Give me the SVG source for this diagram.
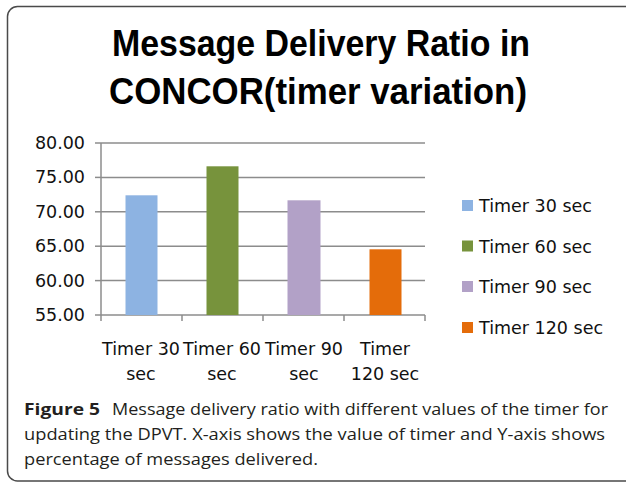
<svg xmlns="http://www.w3.org/2000/svg" width="626" height="485" viewBox="0 0 626 485">
  <style>
    .frame { fill: #ffffff; stroke: #4a4a4a; stroke-width: 1.5; }
    .title { font-family: "Liberation Sans", Arial, sans-serif; font-weight: bold; font-size: 37px; fill: #000; }
    .lbl { font-family: "DejaVu Sans", Verdana, sans-serif; font-size: 17.5px; fill: #111; }
    .grid { stroke: #8c8c8c; stroke-width: 1.5; fill: none; }
    .cap { font-family: "Open Sans", "Noto Sans", sans-serif; font-size: 16.5px; fill: #231f20; }
    .capb { font-weight: bold; }
  </style>

  <!-- outer frame (runs off the right edge) -->
  <rect class="frame" x="7.5" y="6.5" width="640" height="474.5" rx="10" ry="10"/>

  <!-- chart title -->
  <g id="title">
    <text class="title" x="112" y="56" textLength="418" lengthAdjust="spacingAndGlyphs">Message Delivery Ratio in</text>
    <text class="title" x="109" y="104" textLength="418" lengthAdjust="spacingAndGlyphs">CONCOR(timer variation)</text>
  </g>

  <!-- gridlines, axes and ticks -->
  <g id="axes" class="grid">
    <line x1="101" y1="143" x2="425" y2="143"/>
    <line x1="101" y1="177.4" x2="425" y2="177.4"/>
    <line x1="101" y1="211.8" x2="425" y2="211.8"/>
    <line x1="101" y1="246.2" x2="425" y2="246.2"/>
    <line x1="101" y1="280.6" x2="425" y2="280.6"/>
    <line x1="101" y1="315" x2="425" y2="315"/>
    <line x1="101" y1="143" x2="101" y2="321"/>
    <line x1="95" y1="143" x2="101" y2="143"/>
    <line x1="95" y1="177.4" x2="101" y2="177.4"/>
    <line x1="95" y1="211.8" x2="101" y2="211.8"/>
    <line x1="95" y1="246.2" x2="101" y2="246.2"/>
    <line x1="95" y1="280.6" x2="101" y2="280.6"/>
    <line x1="95" y1="315" x2="101" y2="315"/>
    <line x1="182" y1="315" x2="182" y2="321"/>
    <line x1="263" y1="315" x2="263" y2="321"/>
    <line x1="344" y1="315" x2="344" y2="321"/>
    <line x1="425" y1="315" x2="425" y2="321"/>
  </g>

  <!-- y axis values -->
  <g id="y-labels" class="lbl" text-anchor="end">
    <text x="85" y="149">80.00</text>
    <text x="85" y="183.4">75.00</text>
    <text x="85" y="217.8">70.00</text>
    <text x="85" y="252.2">65.00</text>
    <text x="85" y="286.6">60.00</text>
    <text x="85" y="321">55.00</text>
  </g>

  <!-- bars -->
  <g id="bar-30">
    <rect x="125.5" y="195.3" width="32" height="119.7" fill="#8db3e2"/>
  </g>
  <g id="bar-60">
    <rect x="206.5" y="166.3" width="32" height="148.7" fill="#77933c"/>
  </g>
  <g id="bar-90">
    <rect x="287.5" y="200.3" width="33" height="114.7" fill="#b2a1c7"/>
  </g>
  <g id="bar-120">
    <rect x="369.5" y="249.3" width="32" height="65.7" fill="#e46c0a"/>
  </g>

  <!-- category labels -->
  <g id="x-labels" class="lbl" text-anchor="middle">
    <text x="141" y="355">Timer 30</text>
    <text x="141" y="380">sec</text>
    <text x="222" y="355">Timer 60</text>
    <text x="222" y="380">sec</text>
    <text x="304" y="355">Timer 90</text>
    <text x="304" y="380">sec</text>
    <text x="385" y="355">Timer</text>
    <text x="385" y="380">120 sec</text>
  </g>

  <!-- legend -->
  <g id="legend" class="lbl">
    <rect x="462" y="200" width="11" height="11" fill="#8db3e2"/>
    <text x="479" y="212">Timer 30 sec</text>
    <rect x="462" y="240.5" width="11" height="11" fill="#77933c"/>
    <text x="479" y="252.5">Timer 60 sec</text>
    <rect x="462" y="281" width="11" height="11" fill="#b2a1c7"/>
    <text x="479" y="293">Timer 90 sec</text>
    <rect x="462" y="322" width="11" height="11" fill="#e46c0a"/>
    <text x="479" y="334">Timer 120 sec</text>
  </g>

  <!-- figure caption -->
  <g id="caption" class="cap">
    <text class="capb" x="24" y="415" textLength="76" lengthAdjust="spacingAndGlyphs">Figure 5</text>
    <text x="112" y="415" textLength="496" lengthAdjust="spacingAndGlyphs">Message delivery ratio with different values of the timer for</text>
    <text x="24" y="440" textLength="581" lengthAdjust="spacingAndGlyphs">updating the DPVT. X-axis shows the value of timer and Y-axis shows</text>
    <text x="24" y="465" textLength="294" lengthAdjust="spacingAndGlyphs">percentage of messages delivered.</text>
  </g>
</svg>
